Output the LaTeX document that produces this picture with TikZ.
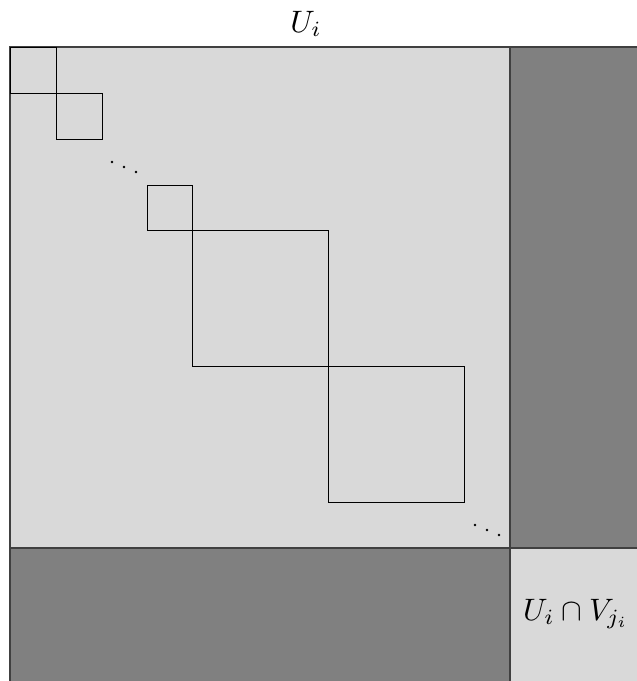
\documentclass[tikz,border=0pt]{standalone}
\begin{document}
\begin{tikzpicture}[x=1pt,y=-1pt,
  light/.style={fill=black!15},
  dark/.style={fill=black!50},
  blk/.style={draw=black,line width=0.8pt},
  edge/.style={draw=black!75,line width=1.2pt},
  dotn/.style={circle,fill=black,inner sep=0pt,minimum size=2.6pt},
  lab/.style={scale=3.1}]
\useasboundingbox (0,0) rectangle (637,681);
\clip (0,0) rectangle (637,681);
% regions
\fill[light] (10,47) rectangle (510,548);
\fill[dark] (510,47) rectangle (660,548);
\fill[dark] (10,548) rectangle (510,700);
\fill[light] (510,548) rectangle (660,700);
% outer lines
\draw[edge] (10,700) -- (10,47) -- (660,47);
\draw[edge] (510,47) -- (510,700);
\draw[edge] (10,548) -- (660,548);
% diagonal blocks
\draw[blk] (10,47) rectangle (56,93);
\draw[blk] (56,93) rectangle (102,139);
\draw[blk] (147,185) rectangle (192,230);
\draw[blk] (192,230) rectangle (328,366);
\draw[blk] (328,366) rectangle (464,502);
% dots
\node[dotn] (d1) at (112,162) {};
\node[dotn] (d2) at (124,167) {};
\node[dotn] (d3) at (136,172) {};
\node[dotn] (e1) at (475,525) {};
\node[dotn] (e2) at (487,530) {};
\node[dotn] (e3) at (499,535) {};
% labels
\node[lab] (top) at (306,24) {$U_i$};
\node[lab] (corner) at (576,614) {$U_i\cap V_{j_i}$};
\end{tikzpicture}
\end{document}
